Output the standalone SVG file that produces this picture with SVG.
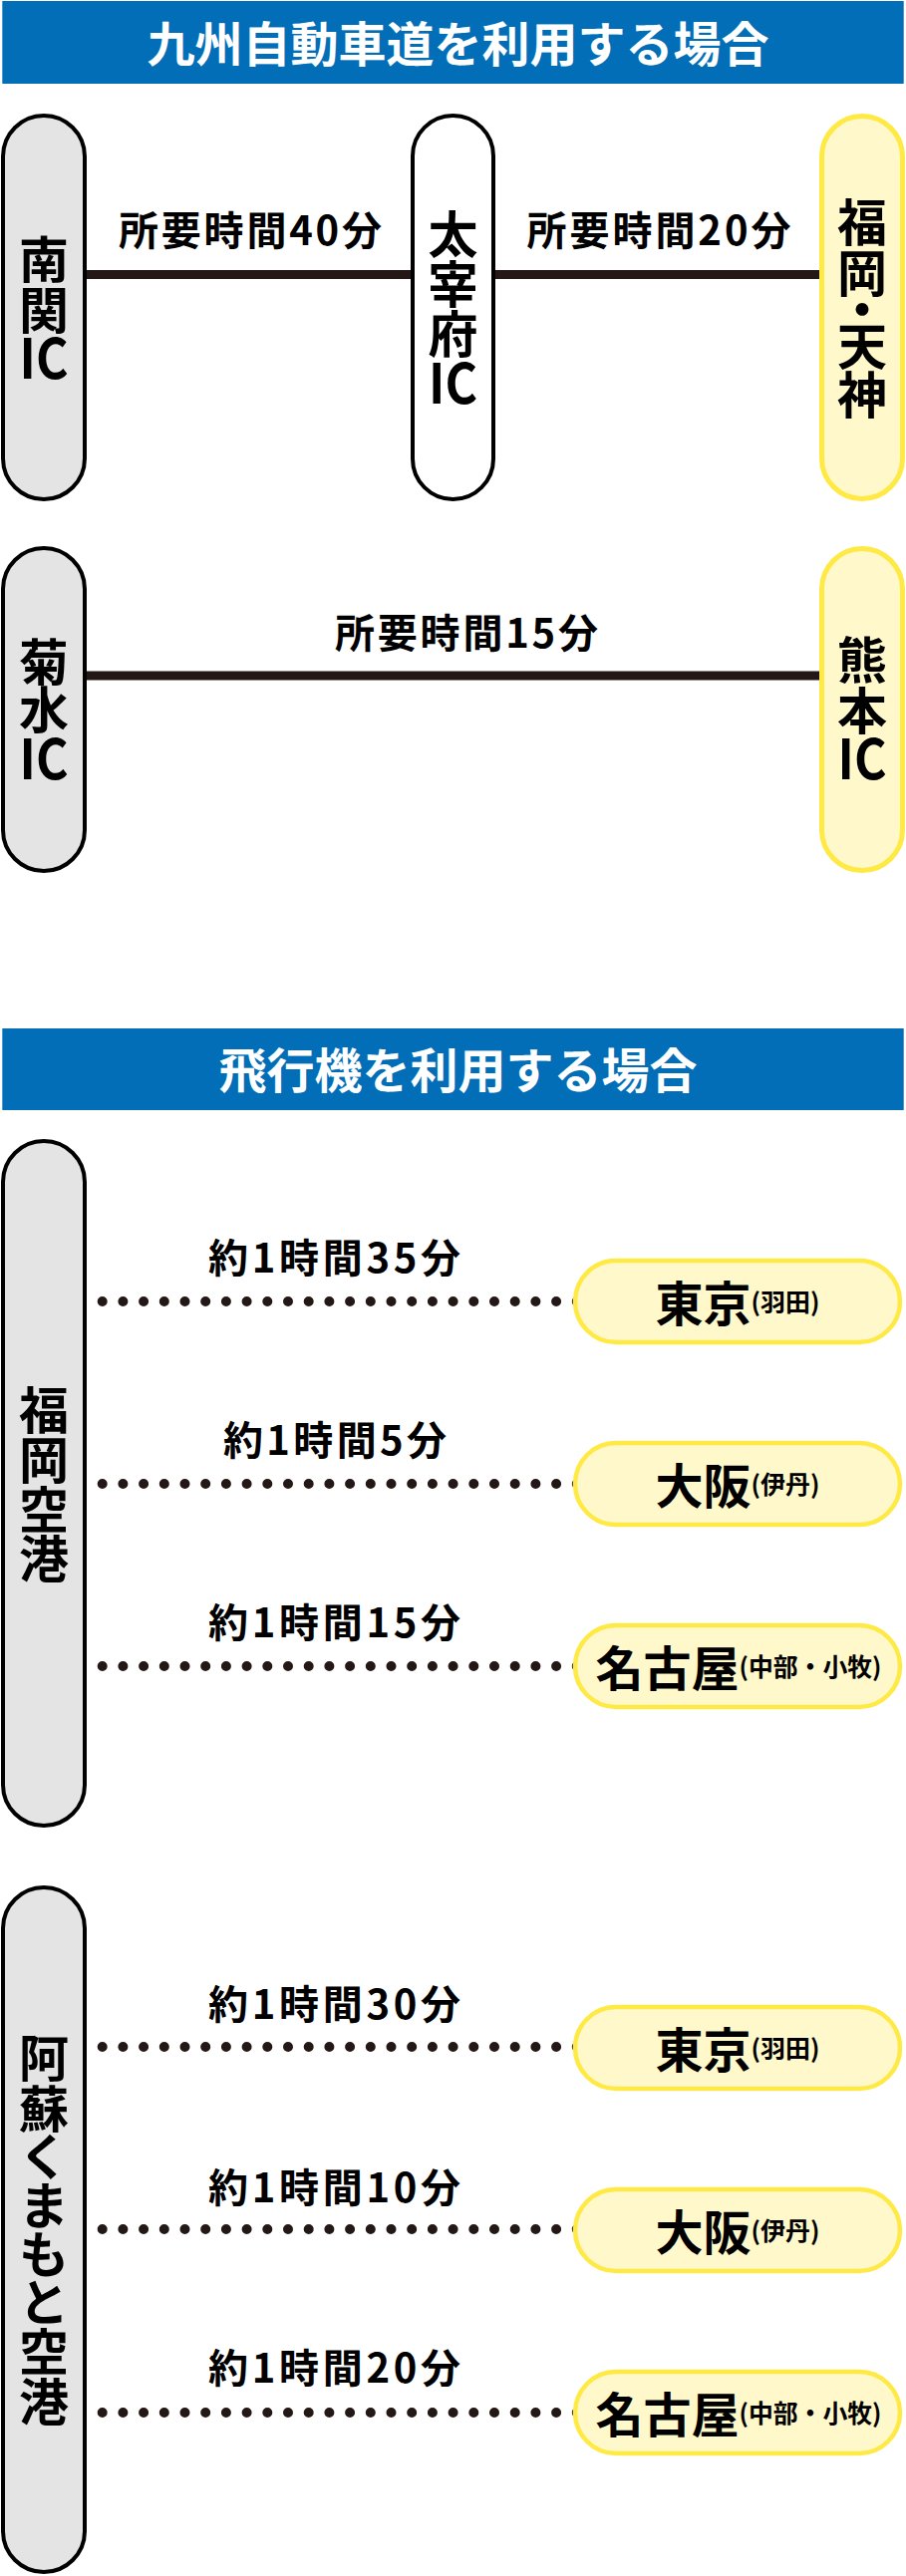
<svg xmlns="http://www.w3.org/2000/svg" width="909" height="2585" viewBox="0 0 909 2585">
<style>
text{font-family:"Noto Sans CJK JP","Noto Sans",sans-serif;font-weight:bold;fill:#000}
.title{fill:#fff;font-size:48px;text-anchor:middle}
.banner{fill:#036EB8}
.lbl{font-size:40px;text-anchor:middle}
.v{font-size:50px;text-anchor:middle}
.ic{font-size:56px;text-anchor:middle}
.grey{fill:#E4E4E4;stroke:#000;stroke-width:4}
.white{fill:#fff;stroke:#000;stroke-width:4}
.yel{fill:#FFF8CA;stroke:#FFE945;stroke-width:5}
.dest{fill:#FFF8CA;stroke:#FFE945;stroke-width:4.5}
.big{font-size:48px;text-anchor:middle}
.sm{font-size:25px}
.solid{stroke:#231815;stroke-width:9;fill:none}
.dots{stroke:#231815;stroke-width:10;stroke-linecap:round;stroke-dasharray:0 20.7;fill:none}
</style>

<g id="banner-expressway">
<rect class="banner" x="2.3" y="1" width="904.4" height="83"/>
<text class="title" x="459.5" y="62">九州自動車道を利用する場合</text>
</g>
<g id="banner-airplane">
<rect class="banner" x="2.3" y="1032" width="904.4" height="82"/>
<text class="title" x="459.5" y="1092">飛行機を利用する場合</text>
</g>

<g id="connectors">
<path class="solid" d="M44 275.5H865"/>
<path class="solid" d="M44 678H865"/>
<path class="dots" d="M102.7 1306H592"/>
<path class="dots" d="M102.7 1489H592"/>
<path class="dots" d="M102.7 1672H592"/>
<path class="dots" d="M102.7 2054H592"/>
<path class="dots" d="M102.7 2237H592"/>
<path class="dots" d="M102.7 2421H592"/>
</g>

<g id="connector-labels">
<text class="lbl" x="251" y="246" textLength="264" lengthAdjust="spacing">所要時間40分</text>
<text class="lbl" x="661" y="246" textLength="265" lengthAdjust="spacing">所要時間20分</text>
<text class="lbl" x="468" y="650" textLength="264" lengthAdjust="spacing">所要時間15分</text>
<text class="lbl" x="335.5" y="1277" textLength="253" lengthAdjust="spacing">約1時間35分</text>
<text class="lbl" x="336" y="1460" textLength="224" lengthAdjust="spacing">約1時間5分</text>
<text class="lbl" x="335.5" y="1643" textLength="253" lengthAdjust="spacing">約1時間15分</text>
<text class="lbl" x="335.5" y="2026" textLength="253" lengthAdjust="spacing">約1時間30分</text>
<text class="lbl" x="335.5" y="2210" textLength="253" lengthAdjust="spacing">約1時間10分</text>
<text class="lbl" x="335.5" y="2391" textLength="253" lengthAdjust="spacing">約1時間20分</text>
</g>

<g id="node-minamiseki">
<rect class="grey" x="3" y="116" width="82" height="385" rx="41"/>
<text class="v" x="44"><tspan x="44" y="279">南</tspan><tspan x="44" y="329.5">関</tspan></text>
<text class="ic" x="44" y="380" textLength="49" lengthAdjust="spacingAndGlyphs">IC</text>
</g>
<g id="node-dazaifu">
<rect class="white" x="414" y="116" width="81" height="385" rx="40.5"/>
<text class="v" x="454.5"><tspan x="454.5" y="254">太</tspan><tspan x="454.5" y="304">宰</tspan><tspan x="454.5" y="353.5">府</tspan></text>
<text class="ic" x="454.5" y="405" textLength="49" lengthAdjust="spacingAndGlyphs">IC</text>
</g>
<g id="node-fukuoka-tenjin">
<rect class="yel" x="824.5" y="116.5" width="81" height="384" rx="40.5"/>
<text class="v" x="865"><tspan x="865" y="242">福</tspan><tspan x="865" y="293">岡</tspan><tspan x="865" y="329">・</tspan><tspan x="865" y="366">天</tspan><tspan x="865" y="415">神</tspan></text>
</g>
<g id="node-kikusui">
<rect class="grey" x="3" y="550" width="82" height="324" rx="41"/>
<text class="v" x="44"><tspan x="44" y="682.5">菊</tspan><tspan x="44" y="731">水</tspan></text>
<text class="ic" x="44" y="782" textLength="49" lengthAdjust="spacingAndGlyphs">IC</text>
</g>
<g id="node-kumamoto">
<rect class="yel" x="824.5" y="550.5" width="81" height="323" rx="40.5"/>
<text class="v" x="865"><tspan x="865" y="681">熊</tspan><tspan x="865" y="731.5">本</tspan></text>
<text class="ic" x="865" y="782" textLength="49" lengthAdjust="spacingAndGlyphs">IC</text>
</g>

<g id="node-fukuoka-airport">
<rect class="grey" x="3" y="1145" width="82" height="687" rx="41"/>
<text class="v" x="44"><tspan x="44" y="1433.5">福</tspan><tspan x="44" y="1484">岡</tspan><tspan x="44" y="1534">空</tspan><tspan x="44" y="1583">港</tspan></text>
</g>
<g id="node-aso-kumamoto-airport">
<rect class="grey" x="3" y="1894" width="82" height="687" rx="41"/>
<text class="v" x="44"><tspan x="44" y="2084">阿</tspan><tspan x="44" y="2134.5">蘇</tspan><tspan x="44" y="2183">く</tspan><tspan x="44" y="2232">ま</tspan><tspan x="44" y="2281">も</tspan><tspan x="44" y="2329">と</tspan><tspan x="44" y="2379">空</tspan><tspan x="44" y="2429">港</tspan></text>
</g>

<g id="node-tokyo-1">
<rect class="dest" x="577" y="1265" width="326" height="82" rx="41"/>
<text class="big" x="740" y="1326">東京<tspan class="sm" dy="-10">(羽田)</tspan></text>
</g>
<g id="node-osaka-1">
<rect class="dest" x="577" y="1448" width="326" height="82" rx="41"/>
<text class="big" x="740" y="1509">大阪<tspan class="sm" dy="-10">(伊丹)</tspan></text>
</g>
<g id="node-nagoya-1">
<rect class="dest" x="577" y="1631" width="326" height="82" rx="41"/>
<text class="big" x="741" y="1692">名古屋<tspan class="sm" dy="-10" textLength="143" lengthAdjust="spacingAndGlyphs">(中部・小牧)</tspan></text>
</g>
<g id="node-tokyo-2">
<rect class="dest" x="577" y="2014" width="326" height="82" rx="41"/>
<text class="big" x="740" y="2075">東京<tspan class="sm" dy="-10">(羽田)</tspan></text>
</g>
<g id="node-osaka-2">
<rect class="dest" x="577" y="2197" width="326" height="82" rx="41"/>
<text class="big" x="740" y="2258">大阪<tspan class="sm" dy="-10">(伊丹)</tspan></text>
</g>
<g id="node-nagoya-2">
<rect class="dest" x="577" y="2380" width="326" height="82" rx="41"/>
<text class="big" x="741" y="2441">名古屋<tspan class="sm" dy="-10" textLength="143" lengthAdjust="spacingAndGlyphs">(中部・小牧)</tspan></text>
</g>
</svg>
